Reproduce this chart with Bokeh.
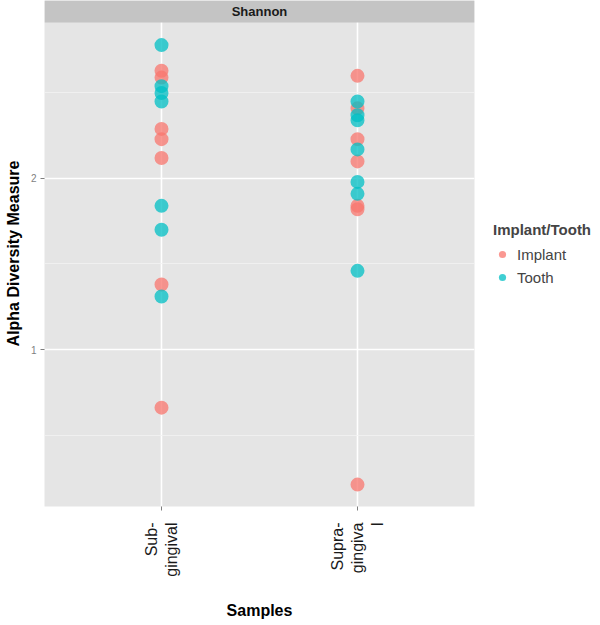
import math
from bokeh.plotting import figure
from bokeh.models import (FactorRange, Range1d, FixedTicker, BoxAnnotation, Label,
                          Legend, LegendItem, ColumnDataSource)
from bokeh.embed import file_html
from bokeh.resources import INLINE

# ---- data ----
categories = ["Sub-gingival", "Supra-gingival"]
tick_labels = ["Sub-\ngingival", "Supra-\ngingiva\nl"]
groups = ["Implant", "Tooth"]
colors = ["#F8766D", "#00BFC4"]

sub_implant = [2.63, 2.59, 2.29, 2.23, 2.12, 1.38, 0.66]
sub_tooth = [2.78, 2.54, 2.50, 2.45, 1.84, 1.70, 1.31]
supra_implant = [2.60, 2.41, 2.23, 2.10, 1.84, 1.82, 0.21]
supra_tooth = [2.45, 2.37, 2.34, 2.17, 1.98, 1.91, 1.46]

y_ticks = [1, 2]
y_minor = [0.5, 1.5, 2.5]
panel_bottom = 0.082
panel_top = 2.912
strip_top = 3.0407
strip_text = "Shannon"

FONT = "Liberation Sans"
label_of = dict(zip(categories, tick_labels))

p = figure(frame_width=430, frame_height=506,
           x_range=FactorRange(factors=tick_labels, range_padding=0.097,
                               range_padding_units="absolute"),
           y_range=Range1d(panel_bottom, strip_top),
           output_backend="svg", toolbar_location=None,
           min_border_left=44, min_border_right=124,
           min_border_top=0, min_border_bottom=119,
           background_fill_color="#E5E5E5", border_fill_color="white",
           outline_line_color=None)

series = {
    "Implant": (sub_implant, supra_implant),
    "Tooth": (sub_tooth, supra_tooth),
}
renderers = []
for g, c in zip(groups, colors):
    sub_vals, supra_vals = series[g]
    xs = [label_of[categories[0]]] * len(sub_vals) + [label_of[categories[1]]] * len(supra_vals)
    ys = list(sub_vals) + list(supra_vals)
    src = ColumnDataSource(dict(x=xs, y=ys))
    r = p.scatter(x="x", y="y", source=src, size=14, fill_color=c,
                  fill_alpha=0.75, line_color=None)
    renderers.append(r)

# facet strip
strip = BoxAnnotation(bottom=panel_top, fill_color="#C4C4C4", fill_alpha=1.0,
                      line_color=None)
p.add_layout(strip)
p.add_layout(Label(x=1.0, y=(panel_top + strip_top) / 2, text=strip_text,
                   text_align="center", text_baseline="middle",
                   text_font=FONT, text_font_size="13px",
                   text_font_style="bold", text_color="#1A1A1A"))

# axes
ticker = FixedTicker(ticks=y_ticks, minor_ticks=y_minor)
p.yaxis.ticker = ticker
p.ygrid.ticker = ticker
p.yaxis.minor_tick_line_color = None
p.yaxis.axis_line_color = None
p.yaxis.major_tick_in = 0
p.yaxis.major_tick_out = 4
p.yaxis.major_tick_line_color = "#7F7F7F"
p.yaxis.major_label_text_font = FONT
p.yaxis.major_label_text_font_size = "10px"
p.yaxis.major_label_text_color = "#7F7F7F"
p.yaxis.major_label_standoff = 4
p.yaxis.axis_label = "Alpha Diversity Measure"
p.yaxis.axis_label_text_font = FONT
p.yaxis.axis_label_text_font_size = "16px"
p.yaxis.axis_label_text_font_style = "bold"
p.yaxis.axis_label_text_color = "black"
p.yaxis.axis_label_standoff = 6

p.xaxis.major_label_orientation = math.pi / 2
p.xaxis.axis_line_color = None
p.xaxis.major_tick_in = 0
p.xaxis.major_tick_out = 4
p.xaxis.major_tick_line_color = "#7F7F7F"
p.xaxis.major_label_text_font = FONT
p.xaxis.major_label_text_font_size = "16px"
p.xaxis.major_label_text_color = "#1A1A1A"
p.xaxis.major_label_standoff = 12
p.xaxis.axis_label = "Samples"
p.xaxis.axis_label_text_font = FONT
p.xaxis.axis_label_text_font_size = "16px"
p.xaxis.axis_label_text_font_style = "bold"
p.xaxis.axis_label_text_color = "black"
p.xaxis.axis_label_standoff = 22

# grid
p.xgrid.grid_line_color = "white"
p.xgrid.grid_line_width = 1.6
p.ygrid.grid_line_color = "white"
p.ygrid.grid_line_width = 1.6
p.ygrid.minor_grid_line_color = "#F2F2F2"
p.ygrid.minor_grid_line_width = 0.8

legend = Legend(items=[LegendItem(label=g, renderers=[r]) for g, r in zip(groups, renderers)],
                title="Implant/Tooth", location=(19, 219),
                margin=0, padding=4, spacing=3,
                glyph_width=18, glyph_height=20, label_standoff=6,
                title_standoff=6,
                label_text_font=FONT, label_text_font_size="15px",
                title_text_font=FONT, title_text_font_size="15px",
                title_text_font_style="bold",
                border_line_color=None, background_fill_alpha=0)
p.add_layout(legend, "right")

open("out.html", "w").write(file_html(p, INLINE))
